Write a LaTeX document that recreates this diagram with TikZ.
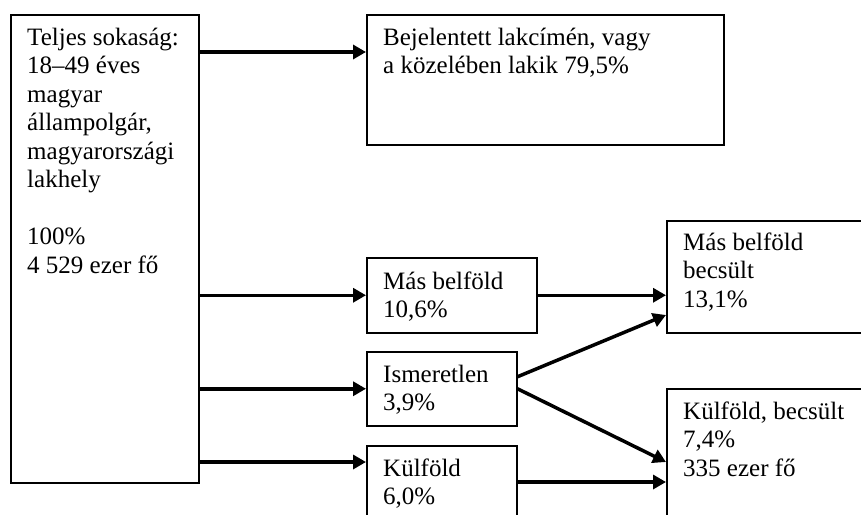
\documentclass[tikz,border=0pt]{standalone}
\usepackage{fontspec}
\setmainfont{Liberation Serif}
\usetikzlibrary{arrows.meta,calc}
\begin{document}
\begin{tikzpicture}[x=1pt,y=-1pt,
  box/.style={draw=black,line width=1.5pt,rectangle,inner sep=0pt,anchor=north west},
  txt/.style={inner sep=0pt,anchor=base west,font=\fontsize{25}{28.5}\selectfont},
  arr/.style={line width=3.5pt,-{Triangle[length=13pt,width=14pt]}}]
\useasboundingbox (0,0) rectangle (861,514);
\clip (0,0) rectangle (861,514);
% boxes
\node[box,minimum width=188pt,minimum height=468pt] (main) at (10,14) {};
\node[box,minimum width=357pt,minimum height=130pt] (top) at (366,14) {};
\node[box,minimum width=170pt,minimum height=75pt] (mas) at (366,257) {};
\node[box,minimum width=150pt,minimum height=74pt] (ism) at (366,351) {};
\node[box,minimum width=150pt,minimum height=90pt] (kul) at (366,445) {};
\node[box,minimum width=240pt,minimum height=112pt] (rup) at (666,220) {};
\node[box,minimum width=240pt,minimum height=150pt] (rlow) at (666,388) {};
% texts
\node[txt] (tmain) at ($(main.north west)+(17,31)$) {\parbox[t]{300pt}{Teljes sokaság:\\18–49 éves\\magyar\\állampolgár,\\magyarországi\\lakhely\\\mbox{}\\100\%\\4 529 ezer fő}};
\node[txt] (ttop) at ($(top.north west)+(17,31)$) {\parbox[t]{340pt}{Bejelentett lakcímén, vagy\\a közelében lakik 79,5\%}};
\node[txt] (tmas) at ($(mas.north west)+(17,32)$) {\parbox[t]{160pt}{Más belföld\\10,6\%}};
\node[txt] (tism) at ($(ism.north west)+(17,31)$) {\parbox[t]{140pt}{Ismeretlen\\3,9\%}};
\node[txt] (tkul) at ($(kul.north west)+(17,31)$) {\parbox[t]{140pt}{Külföld\\6,0\%}};
\node[txt] (trup) at ($(rup.north west)+(17,30)$) {\parbox[t]{190pt}{Más belföld\\becsült\\13,1\%}};
\node[txt] (trlow) at ($(rlow.north west)+(17,31)$) {\parbox[t]{190pt}{Külföld, becsült\\7,4\%\\335 ezer fő}};
% connector end points
\coordinate (ptop) at ($(top.north west)+(0,38)$);
\coordinate (pkul) at ($(kul.north west)+(0,17)$);
\coordinate (pismU) at ($(ism.east)+(0,-12)$);
\coordinate (prupL) at ($(rup.north west)+(0,95)$);
\coordinate (prlowA) at ($(rlow.north west)+(0,74)$);
\coordinate (prlowB) at ($(rlow.north west)+(0,94)$);
\coordinate (pkulE) at ($(kul.north east)+(0,37)$);
% connectors
\draw[arr] (main.east |- ptop) -- (ptop);
\draw[arr] (main.east |- mas.west) -- (mas.west);
\draw[arr] (main.east |- ism.west) -- (ism.west);
\draw[arr] (main.east |- pkul) -- (pkul);
\draw[arr] (mas.east) -- (rup.west |- mas.east);
\draw[arr] (pismU) -- (prupL);
\draw[arr] (ism.east) -- (prlowA);
\draw[arr] (pkulE) -- (prlowB);
\end{tikzpicture}
\end{document}
